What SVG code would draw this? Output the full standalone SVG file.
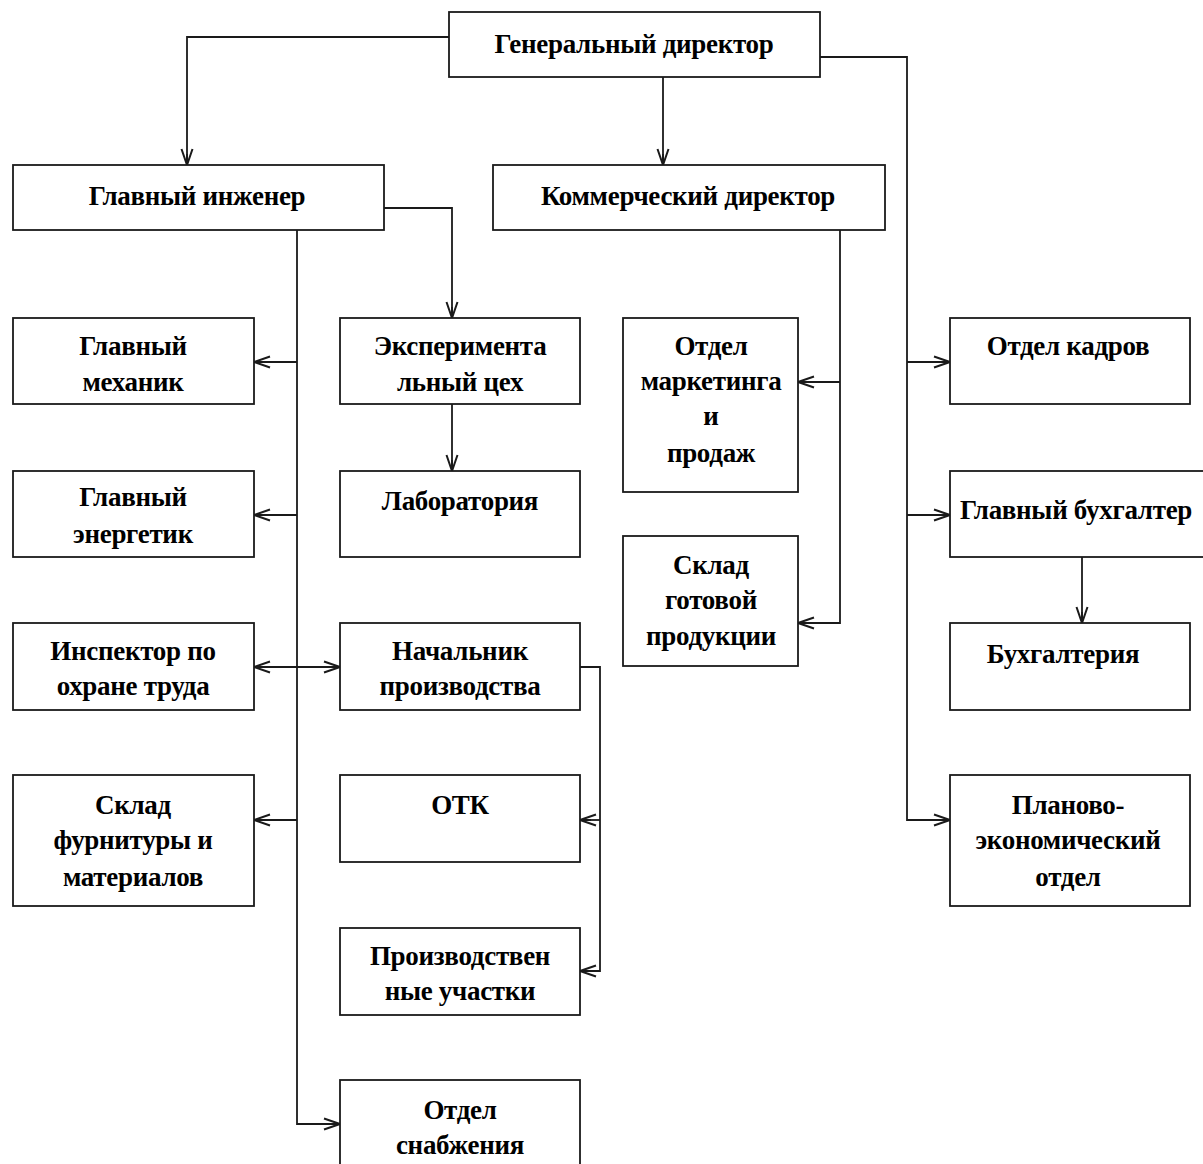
<svg xmlns="http://www.w3.org/2000/svg" width="1203" height="1164" viewBox="0 0 1203 1164">
<defs>
<style>
.box{fill:#fff;stroke:#1a1a1a;stroke-width:1.8}
.t{font-family:"Liberation Serif","Times New Roman",serif;font-weight:bold;font-size:27px;fill:#000;text-anchor:middle;letter-spacing:-0.3px}
.c path{fill:none;stroke:#1a1a1a;stroke-width:1.8}
</style>
<marker id="a" viewBox="0 0 18 14" refX="17" refY="7" markerWidth="18" markerHeight="14" markerUnits="userSpaceOnUse" orient="auto-start-reverse">
<path d="M1,1.5 L17,7 L1,12.5 M6,7 L17,7" fill="none" stroke="#1a1a1a" stroke-width="2"/>
</marker>
</defs>
<rect width="1203" height="1164" fill="#fff"/>
<g class="c" id="connectors">
<path d="M449,37 H187 V165" marker-end="url(#a)"/>
<path d="M663,77 V165" marker-end="url(#a)"/>
<path d="M820,57 H907 V820 H950" marker-end="url(#a)"/>
<path d="M907,362 H950" marker-end="url(#a)"/>
<path d="M907,515 H950" marker-end="url(#a)"/>
<path d="M384,208 H452 V318" marker-end="url(#a)"/>
<path d="M297,230 V1124 H340" marker-end="url(#a)"/>
<path d="M297,362 H254" marker-end="url(#a)"/>
<path d="M297,515 H254" marker-end="url(#a)"/>
<path d="M297,820 H254" marker-end="url(#a)"/>
<path d="M254,667 H340" marker-start="url(#a)" marker-end="url(#a)"/>
<path d="M452,404 V471" marker-end="url(#a)"/>
<path d="M580,667 H600 V971 H580" marker-end="url(#a)"/>
<path d="M600,820 H580" marker-end="url(#a)"/>
<path d="M840,230 V623 H798" marker-end="url(#a)"/>
<path d="M840,382 H798" marker-end="url(#a)"/>
<path d="M1082,557 V623" marker-end="url(#a)"/>
</g>
<g id="gen"><rect class="box" x="449" y="12" width="371" height="65"/><text class="t" x="634" y="53">Генеральный  директор</text></g>
<g id="glinzh"><rect class="box" x="13" y="165" width="371" height="65"/><text class="t" x="197" y="205">Главный  инженер</text></g>
<g id="kom"><rect class="box" x="493" y="165" width="392" height="65"/><text class="t" x="688" y="205">Коммерческий  директор</text></g>
<g id="mech"><rect class="box" x="13" y="318" width="241" height="86"/><text class="t" x="133" y="355">Главный</text><text class="t" x="133" y="391">механик</text></g>
<g id="exp"><rect class="box" x="340" y="318" width="240" height="86"/><text class="t" x="460" y="355">Эксперимента</text><text class="t" x="460" y="391">льный  цех</text></g>
<g id="lab"><rect class="box" x="340" y="471" width="240" height="86"/><text class="t" x="460" y="510">Лаборатория</text></g>
<g id="mark"><rect class="box" x="623" y="318" width="175" height="174"/><text class="t" x="711" y="355">Отдел</text><text class="t" x="711" y="390">маркетинга</text><text class="t" x="711" y="425">и</text><text class="t" x="711" y="462">продаж</text></g>
<g id="sklgot"><rect class="box" x="623" y="536" width="175" height="130"/><text class="t" x="711" y="574">Склад</text><text class="t" x="711" y="609">готовой</text><text class="t" x="711" y="645">продукции</text></g>
<g id="kadr"><rect class="box" x="950" y="318" width="240" height="86"/><text class="t" x="1068" y="355">Отдел  кадров</text></g>
<g id="buh"><rect class="box" x="950" y="471" width="260" height="86"/><text class="t" x="1076" y="519">Главный бухгалтер</text></g>
<g id="buhg"><rect class="box" x="950" y="623" width="240" height="87"/><text class="t" x="1063" y="663">Бухгалтерия</text></g>
<g id="plan"><rect class="box" x="950" y="775" width="240" height="131"/><text class="t" x="1068" y="814">Планово-</text><text class="t" x="1068" y="849">экономический</text><text class="t" x="1068" y="886">отдел</text></g>
<g id="energ"><rect class="box" x="13" y="471" width="241" height="86"/><text class="t" x="133" y="506">Главный</text><text class="t" x="133" y="543">энергетик</text></g>
<g id="insp"><rect class="box" x="13" y="623" width="241" height="87"/><text class="t" x="133" y="660">Инспектор по</text><text class="t" x="133" y="695">охране труда</text></g>
<g id="nach"><rect class="box" x="340" y="623" width="240" height="87"/><text class="t" x="460" y="660">Начальник</text><text class="t" x="460" y="695">производства</text></g>
<g id="otk"><rect class="box" x="340" y="775" width="240" height="87"/><text class="t" x="460" y="814">ОТК</text></g>
<g id="sklfur"><rect class="box" x="13" y="775" width="241" height="131"/><text class="t" x="133" y="814">Склад</text><text class="t" x="133" y="849">фурнитуры  и</text><text class="t" x="133" y="886">материалов</text></g>
<g id="proizv"><rect class="box" x="340" y="928" width="240" height="87"/><text class="t" x="460" y="965">Производствен</text><text class="t" x="460" y="1000">ные участки</text></g>
<g id="snab"><rect class="box" x="340" y="1080" width="240" height="100"/><text class="t" x="460" y="1119">Отдел</text><text class="t" x="460" y="1154">снабжения</text></g>
</svg>
